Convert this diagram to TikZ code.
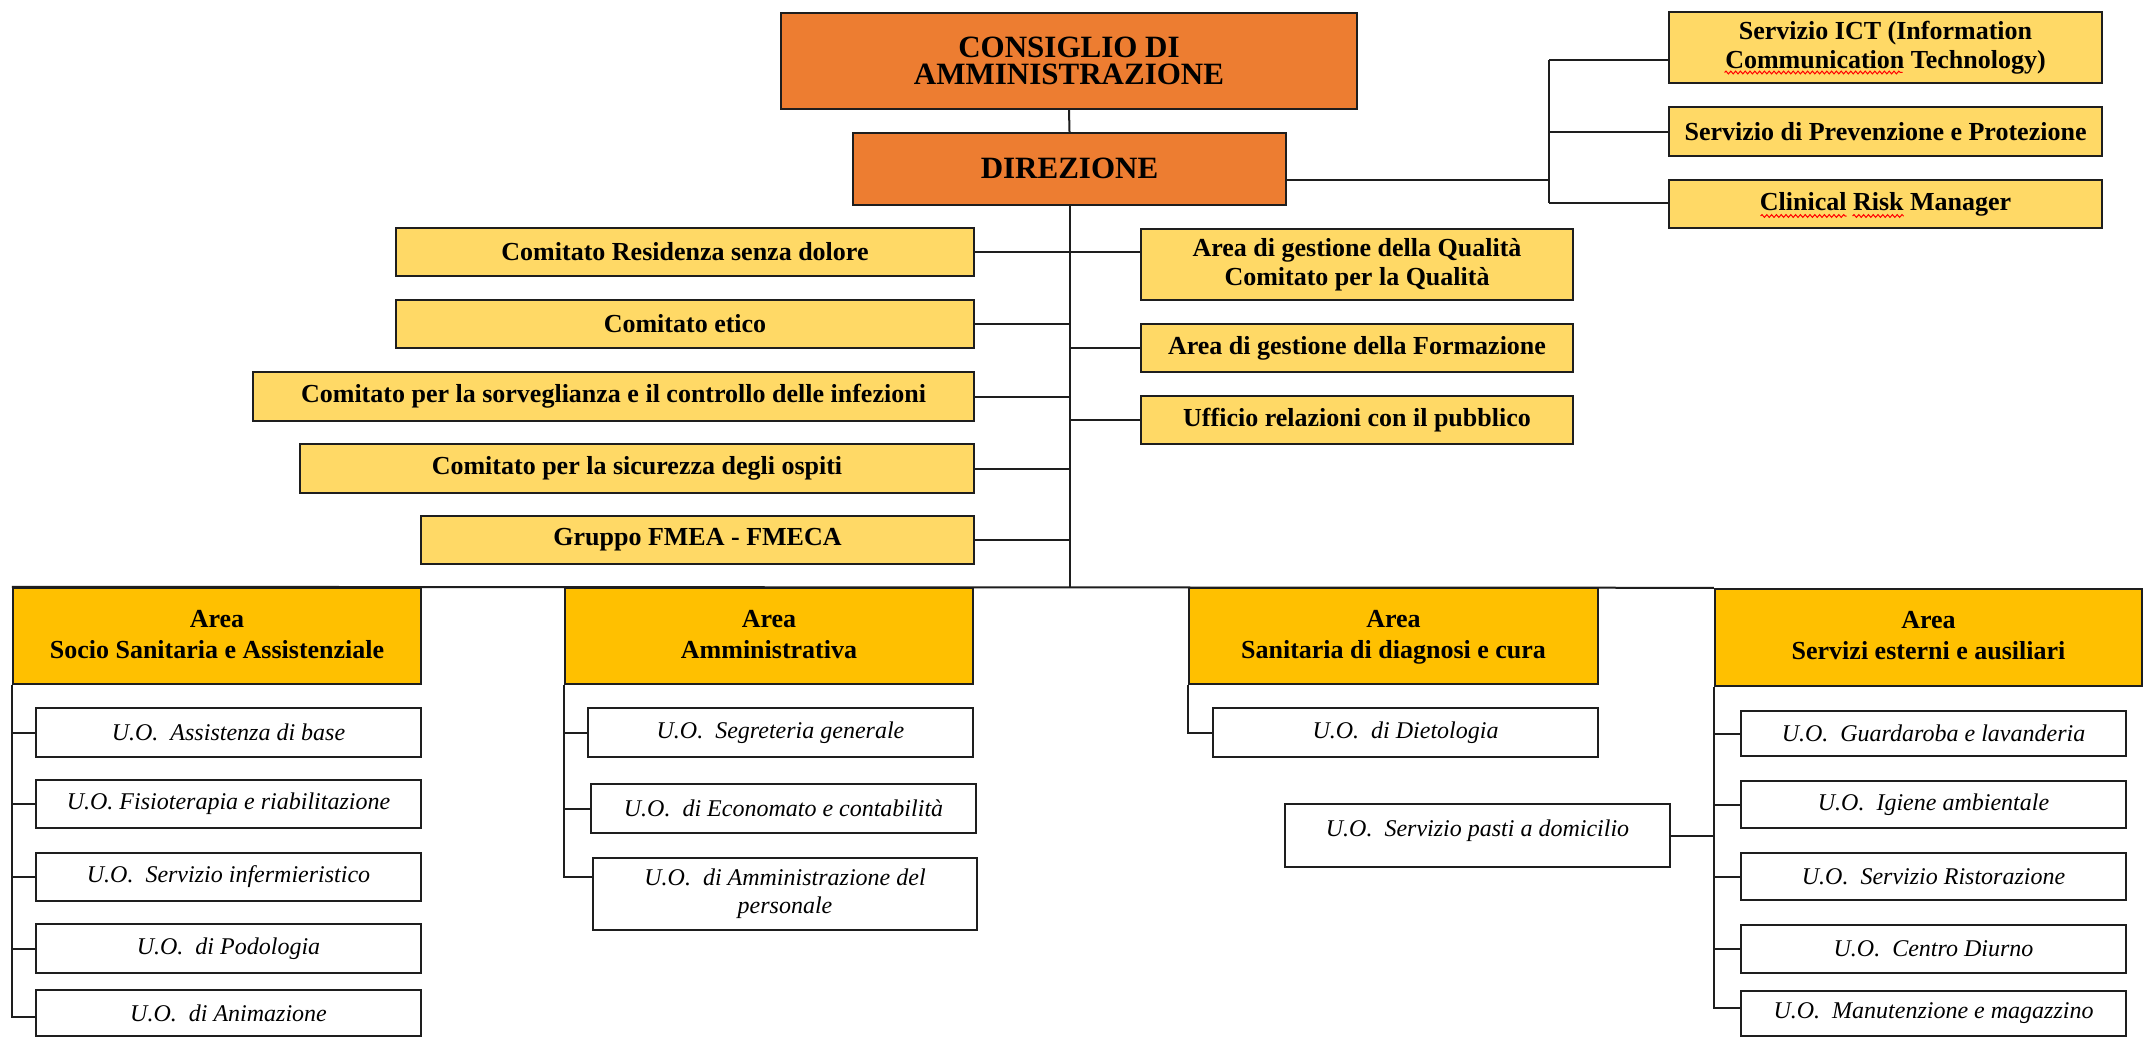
\documentclass[tikz,border=0pt]{standalone}
\usepackage{fontspec}
\setmainfont{Liberation Serif}
\usetikzlibrary{calc,decorations.pathmorphing}
\definecolor{orangebox}{HTML}{ED7D31}
\definecolor{yelbox}{HTML}{FFD966}
\definecolor{areabox}{HTML}{FFC000}
\definecolor{linec}{HTML}{1E1E1E}
\tikzset{
 wh/.style 2 args={minimum width=#1*0.5pt, minimum height=#2*0.5pt},
 basebox/.style={draw=linec, line width=1.2pt, inner sep=0pt, align=center, text=black},
 topbox/.style={basebox, fill=orangebox, font=\bfseries\fontsize{15.5}{13.5}\selectfont},
 combox/.style={basebox, fill=yelbox, font=\bfseries\fontsize{13}{14.5}\selectfont},
 areabx/.style={basebox, fill=areabox, font=\bfseries\fontsize{13}{16.5}\selectfont},
 unitbox/.style={basebox, fill=white, line width=1pt, font=\itshape\fontsize{12}{14}\selectfont},
 conn/.style={draw=linec, line width=1pt},
 spell/.style={draw=red, line width=0.5pt, decorate, decoration={snake, amplitude=0.7pt, segment length=2.4pt}},
}
\begin{document}
\begin{tikzpicture}[x=0.5pt,y=-0.5pt]
\path[use as bounding box, fill=white] (0,0) rectangle (2150,1038);

% top
\node[topbox, wh={576}{96}] (cda) at (1069,61) {\raisebox{-3pt}{\parbox{260pt}{\centering CONSIGLIO DI\\AMMINISTRAZIONE}}};
\node[topbox, wh={433}{72}] (dir) at (1069.5,169) {\raisebox{1pt}{DIREZIONE}};

\node[combox, wh={433}{71}] (ict) at (1885.5,47.5) {Servizio ICT (Information\\Communication Technology)};
\node[combox, wh={433}{49}] (prev) at (1885.5,131.5) {Servizio di Prevenzione e Protezione};
\node[combox, wh={433}{48}] (crm) at (1885.5,204) {Clinical Risk Manager};

% comitati
\node[combox, wh={578}{48}] (res) at (685,252) {Comitato Residenza senza dolore};
\node[combox, wh={578}{48}] (etico) at (685,324) {Comitato etico};
\node[combox, wh={721}{49}] (sorv) at (613.5,396.5) {Comitato per la sorveglianza e il controllo delle infezioni};
\node[combox, wh={674}{49}] (sic) at (637,468.5) {Comitato per la sicurezza degli ospiti};
\node[combox, wh={553}{48}] (fmea) at (697.5,540) {Gruppo FMEA - FMECA};

\node[combox, wh={432}{71}] (qual) at (1357,264.5) {Area di gestione della Qualità\\Comitato per la Qualità};
\node[combox, wh={432}{48}] (form) at (1357,348) {Area di gestione della Formazione};
\node[combox, wh={432}{48}] (urp) at (1357,420) {Ufficio relazioni con il pubblico};

% areas
\node[areabx, wh={408}{96}] (socio) at (217,636) {\raisebox{5pt}{\begin{tabular}{@{}c@{}}Area\\[-1pt]Socio Sanitaria e Assistenziale\end{tabular}}};
\node[areabx, wh={408}{96}] (amm) at (769,636) {\raisebox{5pt}{\begin{tabular}{@{}c@{}}Area\\[-1pt]Amministrativa\end{tabular}}};
\node[areabx, wh={409}{96}] (san) at (1393.5,636) {\raisebox{5pt}{\begin{tabular}{@{}c@{}}Area\\[-1pt]Sanitaria di diagnosi e cura\end{tabular}}};
\node[areabx, wh={427}{97}] (serv) at (1928.5,637.5) {\raisebox{5pt}{\begin{tabular}{@{}c@{}}Area\\[-1pt]Servizi esterni e ausiliari\end{tabular}}};

% units
\node[unitbox, wh={385}{49}] (s1) at (228.5,732.5) {U.O.\ \ Assistenza di base};
\node[unitbox, wh={385}{48}] (s2) at (228.5,804) {U.O. Fisioterapia e riabilitazione};
\node[unitbox, wh={385}{48}] (s3) at (228.5,877) {U.O.\ \ Servizio infermieristico};
\node[unitbox, wh={385}{49}] (s4) at (228.5,948.5) {U.O.\ \ di Podologia};
\node[unitbox, wh={385}{46}] (s5) at (228.5,1013) {U.O.\ \ di Animazione};

\node[unitbox, wh={385}{49}] (a1) at (780.5,732.5) {U.O.\ \ Segreteria generale};
\node[unitbox, wh={385}{49}] (a2) at (783.5,808.5) {U.O.\ \ di Economato e contabilità};
\node[unitbox, wh={384}{72}] (a3) at (785,894) {U.O.\ \ di Amministrazione del\\personale};

\node[unitbox, wh={385}{49}] (d1) at (1405.5,732.5) {U.O.\ \ di Dietologia};
\node[unitbox, wh={385}{63}] (p1) at (1477.5,835.5) {\raisebox{7.5pt}{U.O.\ \ Servizio pasti a domicilio}};

\node[unitbox, wh={385}{45}] (v1) at (1933.5,733.5) {U.O.\ \ Guardaroba e lavanderia};
\node[unitbox, wh={385}{47}] (v2) at (1933.5,804.5) {U.O.\ \ Igiene ambientale};
\node[unitbox, wh={385}{47}] (v3) at (1933.5,876.5) {U.O.\ \ Servizio Ristorazione};
\node[unitbox, wh={385}{48}] (v4) at (1933.5,949) {U.O.\ \ Centro Diurno};
\node[unitbox, wh={385}{45}] (v5) at (1933.5,1013.5) {U.O.\ \ Manutenzione e magazzino};

% spell-check marks
\draw[spell] ($(ict.center)+(-161,25)$) -- ($(ict.center)+(17,25)$);
\draw[spell] ($(crm.center)+(-125,12)$) -- ($(crm.center)+(-39,12)$);
\draw[spell] ($(crm.center)+(-33,12)$) -- ($(crm.center)+(18,12)$);

% connectors
\draw[conn] (cda.south) -- (dir.north);
\coordinate (busc) at (dir.south |- socio.north);
\draw[conn] (dir.south) -- (busc);
\draw[conn] (socio.north west) -- (serv.north west);

\draw[conn] (res.east) -- (res.east -| qual.west);
\foreach \n in {etico,sorv,sic,fmea} \draw[conn] (\n.east) -- (\n.east -| dir.south);
\draw[conn] (form.west -| dir.south) -- (form.west);
\draw[conn] (urp.west -| dir.south) -- (urp.west);

\coordinate (rvt) at (1549,60);
\coordinate (rvb) at (1549,203);
\draw[conn] (rvt) -- (rvb);
\draw[conn] ([yshift=-5.5pt]dir.east) -- ([yshift=-5.5pt]dir.east -| rvt);
\draw[conn] (rvt) -- (rvt -| ict.west);
\draw[conn] (prev.west -| rvt) -- (prev.west);
\draw[conn] (rvb) -- (rvb -| crm.west);

\foreach \n in {s1,s2,s3,s4} \draw[conn] (socio.south west) |- (\n.west);
\draw[conn] (socio.south west) |- ([yshift=-2pt]s5.west);
\foreach \n in {a1,a2} \draw[conn] (amm.south west) |- (\n.west);
\draw[conn] (amm.south west) |- ([yshift=8.5pt]a3.west);
\draw[conn] (san.south west) |- (d1.west);
\foreach \n in {v1,v2,v3,v4} \draw[conn] (serv.south west) |- (\n.west);
\draw[conn] (serv.south west) |- ([yshift=3pt]v5.west);
\draw[conn] (p1.east) -- (p1.east -| serv.south west);
\end{tikzpicture}
\end{document}
